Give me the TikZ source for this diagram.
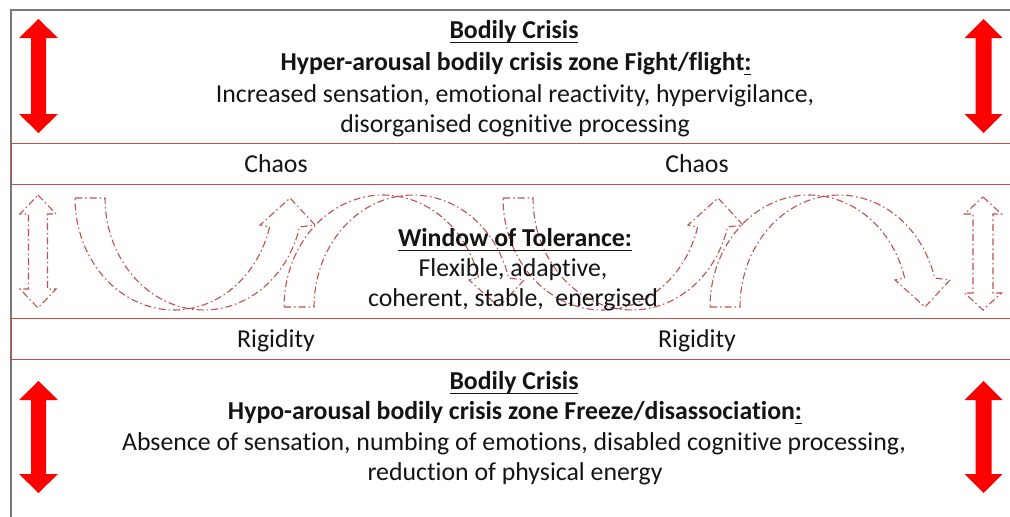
\documentclass[tikz,border=0pt]{standalone}
\usepackage{fontspec}
\setmainfont{Carlito}[Ligatures=NoCommon]

\definecolor{framegray}{RGB}{120,120,120}
\definecolor{bandred}{RGB}{192,80,77}
\definecolor{alarmred}{RGB}{255,0,0}
\definecolor{ink}{RGB}{20,20,20}

% underline with a fixed rule depth below the baseline
\newcommand\ulin[1]{\leavevmode\setbox0\hbox{#1}\rlap{\rule[-5pt]{\wd0}{1.5pt}}\box0}

% vertical double-headed block arrow: centre x, top y, bottom y, shaft half width, head half width, head length
\newcommand\vdblarrow[7][]{%
  \path[#1] (#2,#3) -- ({#2+#6},{#3+#7}) -- ({#2+#5},{#3+#7}) -- ({#2+#5},{#4-#7})
    -- ({#2+#6},{#4-#7}) -- (#2,#4) -- ({#2-#6},{#4-#7}) -- ({#2-#5},{#4-#7})
    -- ({#2-#5},{#3+#7}) -- ({#2-#6},{#3+#7}) -- cycle;}

% U-shaped band ending in an upward head: left x, top y
\newcommand\curvedup[2]{%
  \draw[wot] (#1,#2) -- ({#1+30},#2)
    -- plot[domain=180:15,samples=50] ({#1+129+99*cos(\x)},{#2+112*sin(\x)})
    -- ({#1+240},{#2+27}) -- ({#1+215},#2) -- ({#1+185},{#2+27})
    -- plot[domain=15:180,samples=50] ({#1+99+99*cos(\x)},{#2+112*sin(\x)})
    -- cycle;}

% arch-shaped band ending in a downward head: left x, bottom y
\newcommand\curveddown[2]{%
  \draw[wot] (#1,#2) -- ({#1+30},#2)
    -- plot[domain=180:15,samples=50] ({#1+129+99*cos(\x)},{#2-112*sin(\x)})
    -- ({#1+240},{#2-27}) -- ({#1+215},#2) -- ({#1+185},{#2-27})
    -- plot[domain=15:180,samples=50] ({#1+99+99*cos(\x)},{#2-112*sin(\x)})
    -- cycle;}

\begin{document}
\begin{tikzpicture}[x=1pt,y=-1pt,
  wot/.style={draw=bandred, line width=1.1pt, dash pattern=on 7pt off 3pt on 1.5pt off 3pt},
  txt/.style={text=ink, inner sep=0pt, anchor=base, font=\fontsize{25.8}{31}\selectfont},
  head/.style={txt, font=\fontsize{25.8}{31}\selectfont\bfseries},
  bandline/.style={draw=bandred, line width=1pt}]
\useasboundingbox (0,0) rectangle (1010,517);
\fill[white] (0,0) rectangle (1010,517);

% outer frame (top and left edges)
\draw[framegray, line width=1.6pt] (11,517) -- (11,10) -- (1010,10);

% Chaos and Rigidity bands
\draw[bandline] (11,143) rectangle (1015,184);
\draw[bandline] (11,318) rectangle (1015,359);

% solid alarm arrows in the crisis zones
\vdblarrow[fill=alarmred]{38.5}{19}{133}{7.5}{19.5}{19}
\vdblarrow[fill=alarmred]{983.5}{19}{133}{8}{19}{19}
\vdblarrow[fill=alarmred]{38.5}{381}{493}{7.5}{19.5}{19}
\vdblarrow[fill=alarmred]{983.5}{381}{493}{8}{19}{19}

% dashed arrows inside the window of tolerance
\vdblarrow[wot]{38}{195}{308}{9.5}{18}{19}
\vdblarrow[wot]{983}{197}{310}{10}{18.5}{17}
\curvedup{75}{198}
\curveddown{284}{307}
\curvedup{503}{198}
\curveddown{710}{307}

% top crisis zone
\node[head] (topt) at (514,38) {\ulin{Bodily Crisis}};
\node[head] (tops) at (516,70) {Hyper-arousal bodily crisis zone Fight/flight\ulin{:}};
\node[txt] (topa) at (515,102) {Increased sensation, emotional reactivity, hypervigilance,};
\node[txt] (topb) at (515,132) {disorganised cognitive processing};

% band labels
\node[txt] (chaosl) at (276,172) {Chaos};
\node[txt] (chaosr) at (697,172) {Chaos};
\node[txt] (rigl) at (276,347) {Rigidity};
\node[txt] (rigr) at (697,347) {Rigidity};

% window of tolerance
\node[head] (wott) at (515,246) {\ulin{Window of Tolerance:}};
\node[txt] (wota) at (513,276) {Flexible, adaptive,};
\node[txt] (wotb) at (513,306) {coherent, stable,\ \ energised};

% bottom crisis zone
\node[head] (bott) at (514,389) {\ulin{Bodily Crisis}};
\node[head] (bots) at (515,419) {Hypo-arousal bodily crisis zone Freeze/disassociation\ulin{:}};
\node[txt] (bota) at (514,450) {Absence of sensation, numbing of emotions, disabled cognitive processing,};
\node[txt] (botb) at (515,480) {reduction of physical energy};
\end{tikzpicture}
\end{document}
